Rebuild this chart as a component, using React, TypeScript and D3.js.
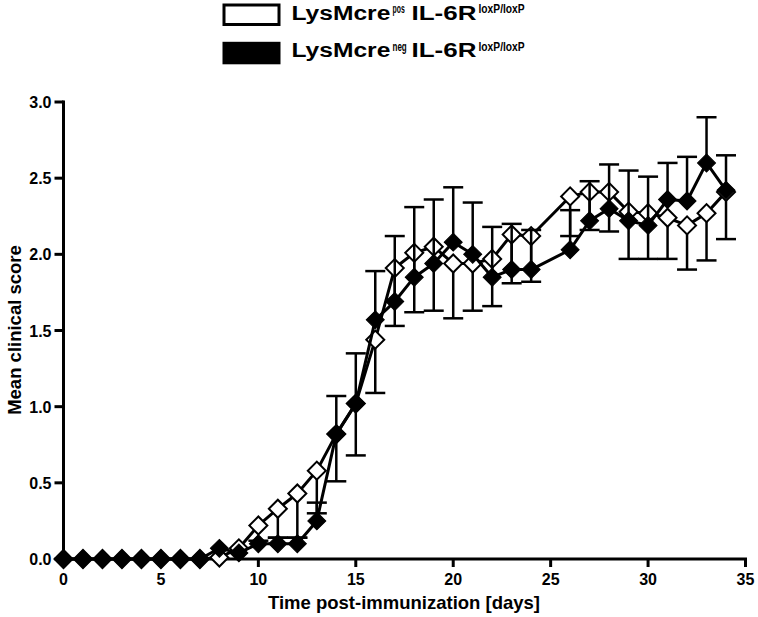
import { useMemo } from 'react';
import * as d3 from 'd3';

// days with measurements (no day 25)
const DAYS = [
  0, 1, 2, 3, 4, 5, 6, 7, 8, 9, 10, 11, 12, 13, 14, 15, 16, 17, 18, 19, 20, 21, 22, 23, 24,
  26, 27, 28, 29, 30, 31, 32, 33, 34,
];

// LysMcre pos (open diamonds) – error bars drawn below only
const POS_MEAN = [
  0, 0, 0, 0, 0, 0, 0, 0, 0.01, 0.07, 0.22, 0.33, 0.43, 0.58, 0.82, 1.02, 1.44, 1.91, 2.01, 2.05,
  1.94, 1.94, 1.97, 2.13, 2.12, 2.38, 2.41, 2.41, 2.28, 2.27, 2.24, 2.19, 2.27, 2.41,
];
const POS_SEM = [
  0, 0, 0, 0, 0, 0, 0, 0, 0, 0, 0, 0.19, 0.29, 0.28, 0.31, 0.34, 0.35, 0.38, 0.39, 0.42,
  0.36, 0.31, 0.31, 0.32, 0.3, 0.26, 0.25, 0.26, 0.31, 0.3, 0.27, 0.29, 0.31, 0.31,
];

// LysMcre neg (filled diamonds) – error bars drawn above only
const NEG_MEAN = [
  0, 0, 0, 0, 0, 0, 0, 0, 0.07, 0.04, 0.1, 0.1, 0.1, 0.25, 0.82, 1.02, 1.57, 1.69, 1.85, 1.94,
  2.08, 2.0, 1.85, 1.9, 1.9, 2.03, 2.22, 2.3, 2.22, 2.19, 2.36, 2.35, 2.6, 2.42,
];
const NEG_SEM = [
  0, 0, 0, 0, 0, 0, 0, 0, 0, 0, 0.02, 0.04, 0.04, 0.12, 0.25, 0.33, 0.32, 0.43, 0.46, 0.42,
  0.36, 0.34, 0.33, 0.3, 0.26, 0.26, 0.26, 0.29, 0.33, 0.32, 0.24, 0.29, 0.3, 0.23,
];

const X_TICKS = [0, 5, 10, 15, 20, 25, 30, 35];
const Y_TICKS = [0, 0.5, 1.0, 1.5, 2.0, 2.5, 3.0];

const LEGEND = [
  { base: 'LysMcre', sup: 'pos', filled: false },
  { base: 'LysMcre', sup: 'neg', filled: true },
];

const W = 758;
const H = 617;
const PLOT = { left: 63.5, right: 745.5, top: 102, bottom: 559 };
const FONT = '"Liberation Sans", Arial, Helvetica, sans-serif';
const CAP = 10;

interface Pt {
  day: number;
  mean: number;
  sem: number;
}

function zip(mean: number[], sem: number[]): Pt[] {
  return DAYS.map((day, i) => ({ day, mean: mean[i], sem: sem[i] }));
}

export default function App() {
  const chart = useMemo(() => {
    const x = d3.scaleLinear().domain([0, 35]).range([PLOT.left, PLOT.right]);
    const y = d3.scaleLinear().domain([0, 3]).range([PLOT.bottom, PLOT.top]);
    const line = d3
      .line<Pt>()
      .x((d) => x(d.day))
      .y((d) => y(d.mean));
    // rotated square = diamond of ~18px diagonal
    const diamond = d3.symbol().type(d3.symbolSquare).size(162)() ?? '';
    return {
      x,
      y,
      pos: zip(POS_MEAN, POS_SEM),
      neg: zip(NEG_MEAN, NEG_SEM),
      line,
      diamond,
    };
  }, []);

  const { x, y, line, diamond } = chart;

  const renderSeries = (data: Pt[], filled: boolean) => (
    <g>
      {/* error bars (pos: below, neg: above) */}
      {data
        .filter((d) => d.sem > 0)
        .map((d) => {
          const end = filled ? y(d.mean + d.sem) : y(d.mean - d.sem);
          return (
            <g key={`e${d.day}`} stroke="#000" strokeWidth={2.5}>
              <line x1={x(d.day)} x2={x(d.day)} y1={y(d.mean)} y2={end} />
              <line x1={x(d.day) - CAP} x2={x(d.day) + CAP} y1={end} y2={end} />
            </g>
          );
        })}
      <path d={line(data) ?? ''} fill="none" stroke="#000" strokeWidth={3} strokeLinejoin="round" />
      {data.map((d) => (
        <path
          key={`m${d.day}`}
          d={diamond}
          transform={`translate(${x(d.day)},${y(d.mean)}) rotate(45)`}
          fill={filled ? '#000' : '#fff'}
          stroke="#000"
          strokeWidth={filled ? 1 : 2}
        />
      ))}
    </g>
  );

  return (
    <svg
      width={W}
      height={H}
      viewBox={`0 0 ${W} ${H}`}
      style={{ position: 'absolute', left: 0, top: 0, background: '#fff' }}
      fontFamily={FONT}
      fontWeight="bold"
    >
      <rect width={W} height={H} fill="#fff" />

      {/* Legend: the original type is wide for the names and narrow for superscripts */}
      {LEGEND.map((l, i) => {
        const ty = 19.5 + i * 37.8;
        return (
          <g key={l.sup}>
            <rect
              x={224}
              y={ty - 14.5 + (i === 0 ? 0 : 0.5)}
              width={55}
              height={19.5}
              fill={l.filled ? '#000' : '#fff'}
              stroke="#000"
              strokeWidth={3}
            />
            <text transform={`translate(291.5,${ty}) scale(1.23,1)`} fontSize={20}>
              {l.base}
            </text>
            <text
              transform={`translate(392.5,${ty - 6.5}) scale(${l.sup === 'pos' ? 0.55 : 0.64},1)`}
              fontSize={12.5}
            >
              {l.sup}
            </text>
            <text transform={`translate(411.5,${ty}) scale(1.3,1)`} fontSize={20}>
              IL-6R
            </text>
            <text transform={`translate(478.5,${ty - 6.5}) scale(0.82,1)`} fontSize={12.5}>
              loxP/loxP
            </text>
          </g>
        );
      })}

      {/* Axes */}
      <g stroke="#000" strokeWidth={3}>
        <line x1={PLOT.left} x2={PLOT.left} y1={PLOT.top - 1.5} y2={PLOT.bottom + 1.5} />
        <line x1={PLOT.left - 1.5} x2={PLOT.right + 1.5} y1={PLOT.bottom} y2={PLOT.bottom} />
        {Y_TICKS.map((t) => (
          <line key={t} x1={PLOT.left - 9} x2={PLOT.left} y1={y(t)} y2={y(t)} />
        ))}
        {X_TICKS.map((t) => (
          <line key={t} x1={x(t)} x2={x(t)} y1={PLOT.bottom} y2={PLOT.bottom + 8} />
        ))}
      </g>
      {Y_TICKS.map((t) => (
        <text key={t} x={51.5} y={y(t) + 6} fontSize={16} textAnchor="end">
          {t.toFixed(1)}
        </text>
      ))}
      {X_TICKS.map((t) => (
        <text key={t} x={x(t)} y={585} fontSize={16} textAnchor="middle">
          {t}
        </text>
      ))}
      <text x={404} y={609} fontSize={18.5} textAnchor="middle">
        Time post-immunization [days]
      </text>
      <text transform="translate(20.5,330) rotate(-90)" fontSize={18.5} textAnchor="middle">
        Mean clinical score
      </text>

      {/* Data */}
      {renderSeries(chart.pos, false)}
      {renderSeries(chart.neg, true)}
    </svg>
  );
}
